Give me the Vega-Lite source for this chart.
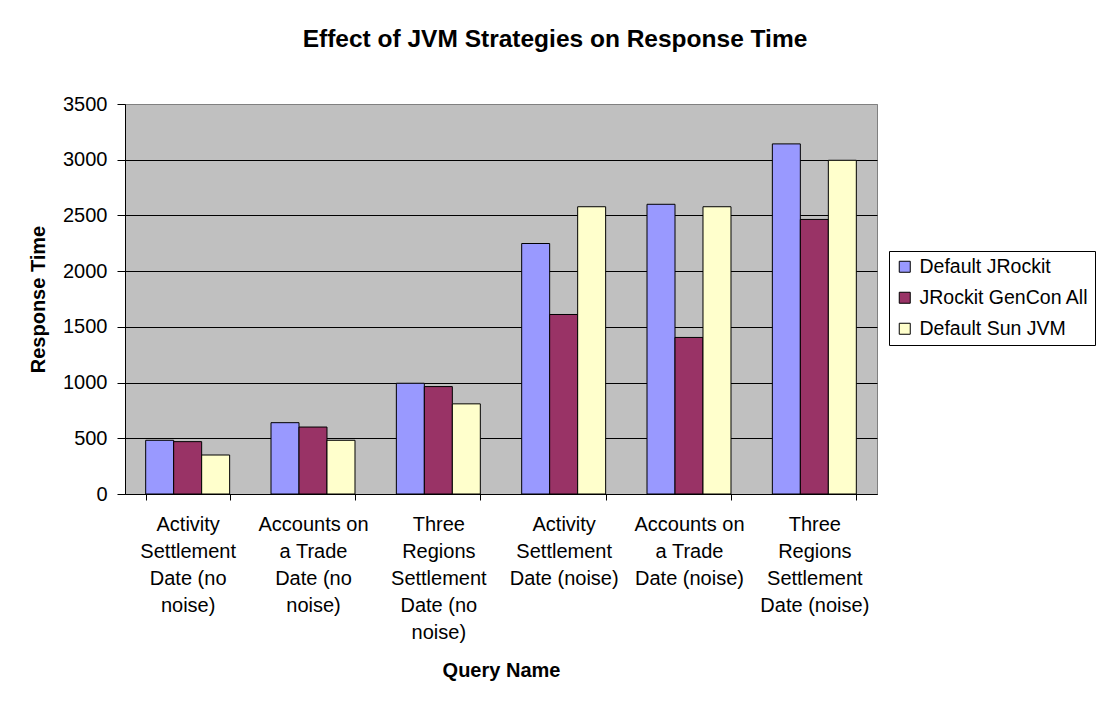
{
  "$schema": "https://vega.github.io/schema/vega-lite/v6.json",
  "width": 752,
  "height": 390,
  "autosize": {"type": "none"},
  "padding": {"left": 125, "top": 104, "right": 227, "bottom": 208},
  "background": "white",
  "title": {
    "text": "Effect of JVM Strategies on Response Time",
    "fontSize": 24.5,
    "font": "Liberation Sans",
    "fontWeight": "bold",
    "color": "black",
    "anchor": "middle",
    "dx": 54,
    "offset": 23,
    "baseline": "alphabetic"
  },
  "data": {
    "values": [
      {"query": "Activity\nSettlement\nDate (no\nnoise)", "series": "Default JRockit", "time": 482},
      {"query": "Activity\nSettlement\nDate (no\nnoise)", "series": "JRockit GenCon All", "time": 470},
      {"query": "Activity\nSettlement\nDate (no\nnoise)", "series": "Default Sun JVM", "time": 350},
      {"query": "Accounts on\na Trade\nDate (no\nnoise)", "series": "Default JRockit", "time": 640},
      {"query": "Accounts on\na Trade\nDate (no\nnoise)", "series": "JRockit GenCon All", "time": 601},
      {"query": "Accounts on\na Trade\nDate (no\nnoise)", "series": "Default Sun JVM", "time": 482},
      {"query": "Three\nRegions\nSettlement\nDate (no\nnoise)", "series": "Default JRockit", "time": 994},
      {"query": "Three\nRegions\nSettlement\nDate (no\nnoise)", "series": "JRockit GenCon All", "time": 964},
      {"query": "Three\nRegions\nSettlement\nDate (no\nnoise)", "series": "Default Sun JVM", "time": 809},
      {"query": "Activity\nSettlement\nDate (noise)", "series": "Default JRockit", "time": 2248},
      {"query": "Activity\nSettlement\nDate (noise)", "series": "JRockit GenCon All", "time": 1611},
      {"query": "Activity\nSettlement\nDate (noise)", "series": "Default Sun JVM", "time": 2578},
      {"query": "Accounts on\na Trade\nDate (noise)", "series": "Default JRockit", "time": 2600},
      {"query": "Accounts on\na Trade\nDate (noise)", "series": "JRockit GenCon All", "time": 1405},
      {"query": "Accounts on\na Trade\nDate (noise)", "series": "Default Sun JVM", "time": 2578},
      {"query": "Three\nRegions\nSettlement\nDate (noise)", "series": "Default JRockit", "time": 3142},
      {"query": "Three\nRegions\nSettlement\nDate (noise)", "series": "JRockit GenCon All", "time": 2464},
      {"query": "Three\nRegions\nSettlement\nDate (noise)", "series": "Default Sun JVM", "time": 2995}
    ]
  },
  "mark": {"type": "bar", "stroke": "#000000", "strokeWidth": 1},
  "encoding": {
    "x": {
      "field": "query",
      "type": "nominal",
      "sort": null,
      "scale": {"paddingInner": 0.33, "paddingOuter": 0.165},
      "axis": {
        "title": "Query Name",
        "labelExpr": "split(datum.label, '\\n')",
        "labelAngle": 0,
        "labelFontSize": 20,
        "labelLineHeight": 27,
        "labelColor": "black",
        "labelPadding": 14,
        "labelBaseline": "top",
        "labelLimit": 300,
        "labelOverlap": false,
        "tickBand": "extent",
        "tickSize": 6,
        "tickColor": "black",
        "domainColor": "black",
        "titleFontSize": 20,
        "titleFontWeight": "bold",
        "titleColor": "black",
        "titlePadding": 18
      }
    },
    "xOffset": {
      "field": "series",
      "type": "nominal",
      "sort": ["Default JRockit", "JRockit GenCon All", "Default Sun JVM"],
      "scale": {"paddingInner": 0, "paddingOuter": 0}
    },
    "y": {
      "field": "time",
      "type": "quantitative",
      "scale": {"domain": [0, 3500], "nice": false},
      "axis": {
        "title": "Response Time",
        "format": "d",
        "values": [0, 500, 1000, 1500, 2000, 2500, 3000, 3500],
        "grid": true,
        "gridColor": {"condition": {"test": "datum.value == 3500", "value": "#808080"}, "value": "black"},
        "gridWidth": 1,
        "gridOpacity": 1,
        "tickSize": 8,
        "tickColor": "black",
        "domainColor": "black",
        "labelFontSize": 20,
        "labelPadding": 10,
        "labelColor": "black",
        "titleFontSize": 20,
        "titleFontWeight": "bold",
        "titleColor": "black",
        "titlePadding": 14
      }
    },
    "color": {
      "field": "series",
      "type": "nominal",
      "sort": ["Default JRockit", "JRockit GenCon All", "Default Sun JVM"],
      "scale": {
        "domain": ["Default JRockit", "JRockit GenCon All", "Default Sun JVM"],
        "range": ["#9999FF", "#993366", "#FFFFCC"]
      },
      "legend": {
        "title": null,
        "orient": "none",
        "legendX": 764,
        "legendY": 147,
        "direction": "vertical",
        "labelFontSize": 19.5,
        "labelColor": "black",
        "labelLimit": 300,
        "symbolType": "square",
        "symbolSize": 121,
        "symbolStrokeColor": "black",
        "symbolStrokeWidth": 1,
        "symbolOpacity": 1,
        "strokeColor": "black",
        "fillColor": "white",
        "padding": 6,
        "rowPadding": 10,
        "labelOffset": 5
      }
    }
  },
  "config": {
    "font": "Liberation Sans",
    "view": {"fill": "#C0C0C0", "stroke": "#808080"}
  }
}
